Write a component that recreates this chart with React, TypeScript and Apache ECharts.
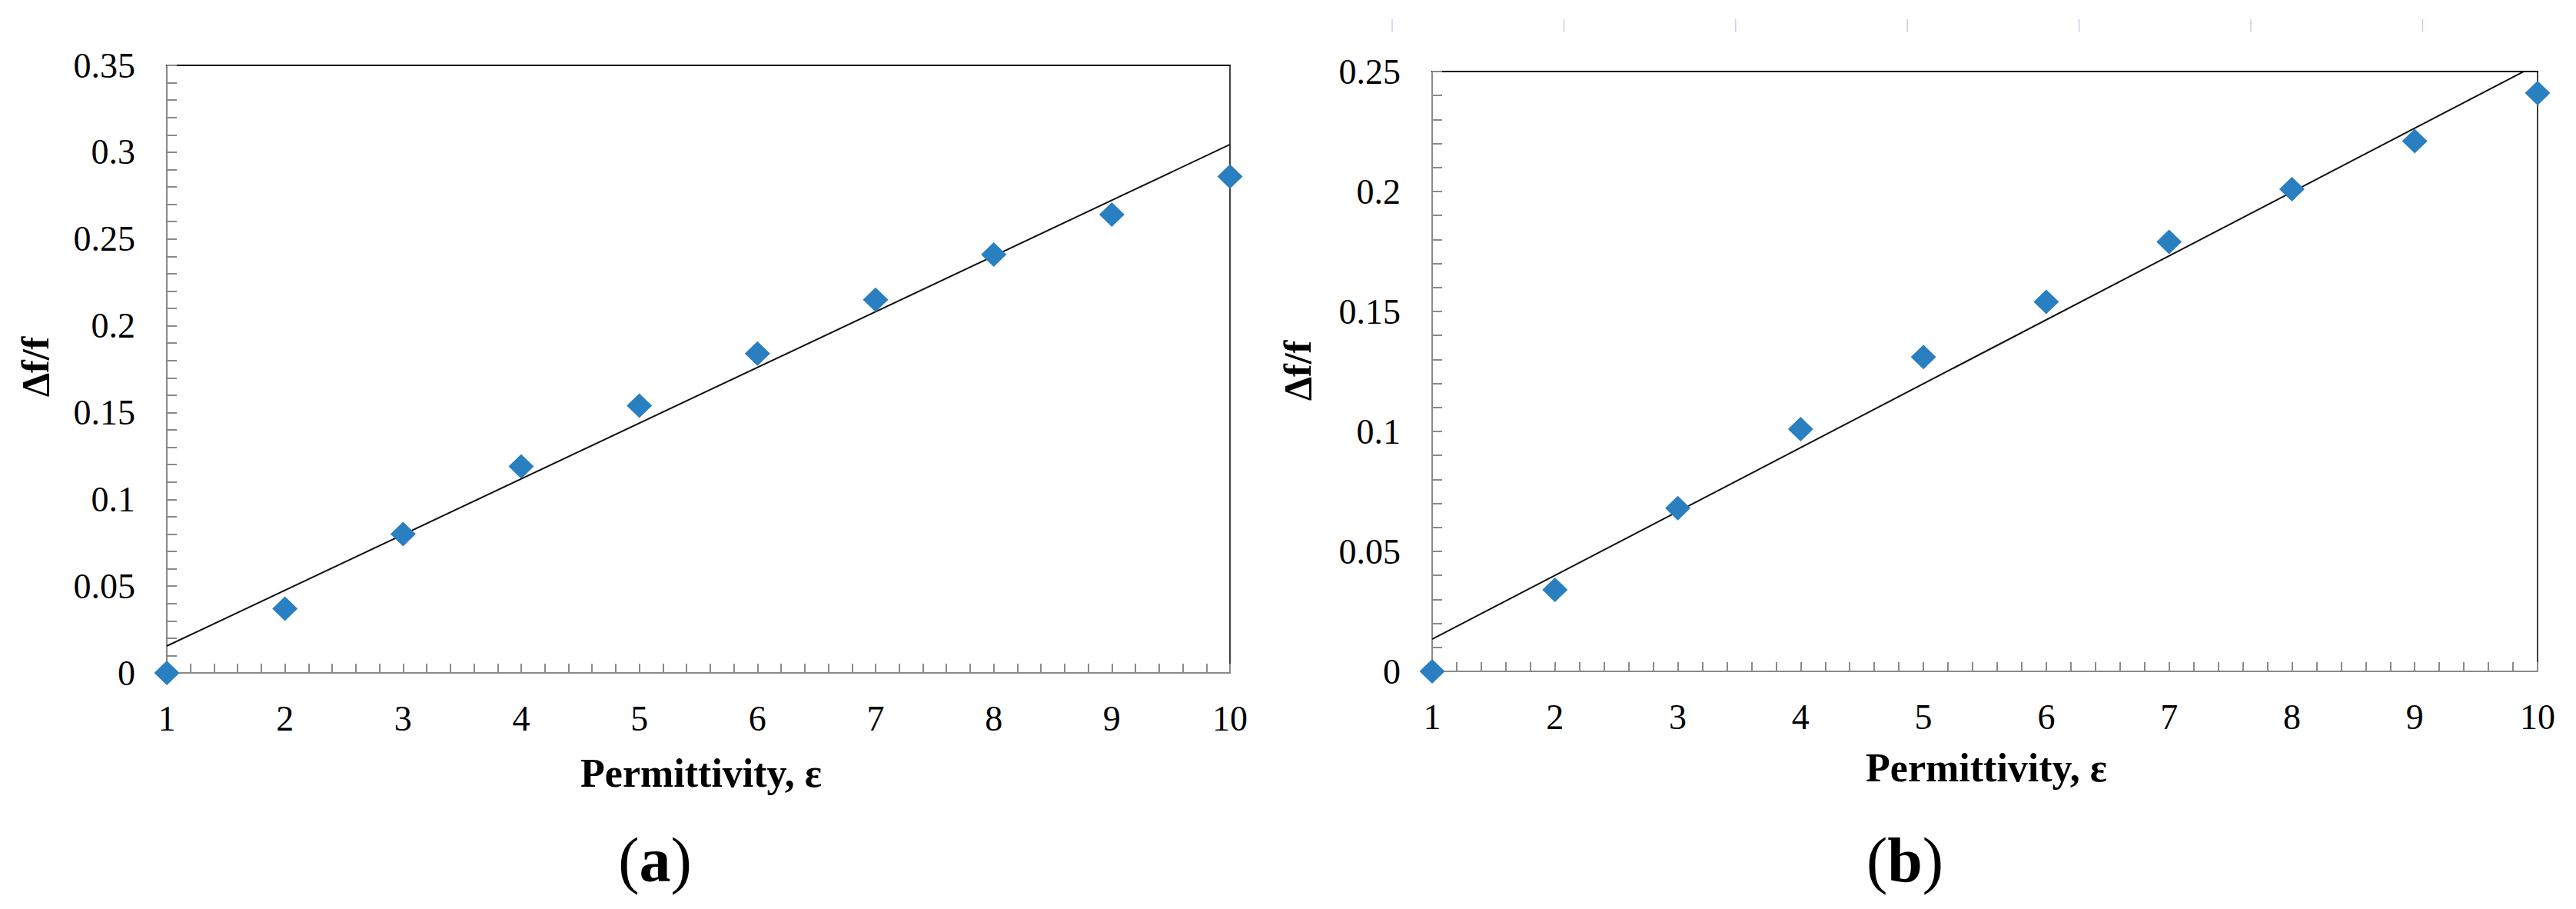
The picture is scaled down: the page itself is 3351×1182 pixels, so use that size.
import React, { useEffect, useRef } from "react";
import * as echarts from "echarts";

// ---- Data ----
const permittivity = [1, 2, 3, 4, 5, 6, 7, 8, 9, 10];
const deltaFA = [0, 0.037, 0.08, 0.119, 0.154, 0.184, 0.215, 0.241, 0.264, 0.286];
const deltaFB = [0, 0.034, 0.068, 0.101, 0.131, 0.154, 0.179, 0.201, 0.221, 0.241];
const trendA = [[1, 0.0155], [10, 0.3044]];
const trendB = [[1, 0.0134], [10, 0.253]];
const yMaxA = 0.35;
const yMaxB = 0.25;
const yInterval = 0.05;
const xTitle = "Permittivity, ε";
const yTitle = "Δf/f";
const panelLabels = ["a", "b"];

const SERIF = "Liberation Serif";
const AXIS_GRAY = "#8a8a8a";
const MARKER = "#2a7fc1";

const tickLabel = {
  fontSize: 46,
  fontFamily: SERIF,
  fontStyle: "normal",
  fontWeight: "normal",
  color: "#000",
};

function xAxisCfg(gridIndex: number) {
  return {
    type: "value",
    gridIndex,
    min: 1,
    max: 10,
    interval: 1,
    axisLine: { show: true, onZero: false, lineStyle: { color: AXIS_GRAY, width: 2 } },
    axisTick: { show: true, inside: true, length: 12, lineStyle: { color: AXIS_GRAY, width: 2 } },
    minorTick: { show: true, splitNumber: 5, length: 12, lineStyle: { color: AXIS_GRAY, width: 2 } },
    splitLine: { show: false },
    axisLabel: { margin: 36, ...tickLabel },
  };
}
function xTopCfg(gridIndex: number) {
  return {
    type: "value",
    gridIndex,
    position: "top",
    min: 1,
    max: 10,
    axisLine: { show: true, onZero: false, lineStyle: { color: "#000", width: 2 } },
    axisTick: { show: false },
    axisLabel: { show: false },
    splitLine: { show: false },
  };
}
function yAxisCfg(gridIndex: number, max: number) {
  return {
    type: "value",
    gridIndex,
    min: 0,
    max,
    interval: yInterval,
    axisLine: { show: true, onZero: false, lineStyle: { color: AXIS_GRAY, width: 2 } },
    axisTick: { show: true, inside: true, length: 13, lineStyle: { color: AXIS_GRAY, width: 2 } },
    minorTick: { show: true, splitNumber: 5, length: 13, lineStyle: { color: AXIS_GRAY, width: 2 } },
    splitLine: { show: false },
    axisLabel: { margin: 41, ...tickLabel },
  };
}
function yRightCfg(gridIndex: number, max: number) {
  return {
    type: "value",
    gridIndex,
    position: "right",
    min: 0,
    max,
    axisLine: { show: true, onZero: false, lineStyle: { color: "#000", width: 1.5 } },
    axisTick: { show: false },
    axisLabel: { show: false },
    splitLine: { show: false },
  };
}

export default function App() {
  const ref = useRef<HTMLDivElement>(null);
  useEffect(() => {
    if (!ref.current) return;
    const chart = echarts.init(ref.current, null, { renderer: "svg" });

    const topTicks: any[] = [];
    for (let k = 0; k < 7; k++) {
      const x = 1811 + k * 223.4;
      topTicks.push({
        type: "line",
        shape: { x1: x, y1: 25, x2: x, y2: 42 },
        style: { stroke: "#c9d1e2", lineWidth: 1.5 },
      });
    }

    const titleStyle = {
      fontSize: 52,
      fontWeight: "bold",
      fontFamily: SERIF,
      fill: "#000",
      align: "center",
      verticalAlign: "middle",
    };
    const panelText = (letter: string, x: number, y: number) => ({
      type: "text",
      x,
      y,
      style: {
        text: `{p|(}{b|${letter}}{p|)}`,
        align: "center",
        verticalAlign: "middle",
        rich: {
          p: { fontSize: 82, fontFamily: SERIF, fill: "#000" },
          b: { fontSize: 82, fontFamily: SERIF, fontWeight: "bold", fill: "#000" },
        },
      },
    });

    chart.setOption({
      animation: false,
      backgroundColor: "#fff",
      textStyle: { fontFamily: SERIF },
      grid: [
        { left: 217, top: 85, width: 1383, height: 790 },
        { left: 1863, top: 93, width: 1438, height: 780 },
      ],
      xAxis: [xAxisCfg(0), xAxisCfg(1), xTopCfg(0), xTopCfg(1)],
      yAxis: [yAxisCfg(0, yMaxA), yAxisCfg(1, yMaxB), yRightCfg(0, yMaxA), yRightCfg(1, yMaxB)],
      series: [
        {
          type: "line",
          xAxisIndex: 0,
          yAxisIndex: 0,
          data: trendA,
          showSymbol: false,
          symbol: "none",
          lineStyle: { color: "#111", width: 2 },
          clip: true,
          z: 2,
        },
        {
          type: "scatter",
          xAxisIndex: 0,
          yAxisIndex: 0,
          data: permittivity.map((x, i) => [x, deltaFA[i]]),
          symbol: "diamond",
          symbolSize: [33, 32],
          itemStyle: { color: MARKER, opacity: 1 },
          z: 3,
        },
        {
          type: "line",
          xAxisIndex: 1,
          yAxisIndex: 1,
          data: trendB,
          showSymbol: false,
          symbol: "none",
          lineStyle: { color: "#111", width: 2 },
          clip: true,
          z: 2,
        },
        {
          type: "scatter",
          xAxisIndex: 1,
          yAxisIndex: 1,
          data: permittivity.map((x, i) => [x, deltaFB[i]]),
          symbol: "diamond",
          symbolSize: [33, 32],
          itemStyle: { color: MARKER, opacity: 1 },
          z: 3,
        },
      ],
      graphic: [
        ...topTicks,
        { type: "text", x: 912, y: 1005, style: { text: xTitle, ...titleStyle } },
        { type: "text", x: 2584, y: 998, style: { text: xTitle, ...titleStyle } },
        { type: "text", x: 46, y: 477, rotation: Math.PI / 2, style: { text: yTitle, ...titleStyle, fontSize: 50 } },
        { type: "text", x: 1688, y: 482, rotation: Math.PI / 2, style: { text: yTitle, ...titleStyle, fontSize: 50 } },
        panelText(panelLabels[0], 852, 1118),
        panelText(panelLabels[1], 2478, 1118),
      ],
    });
    return () => chart.dispose();
  }, []);
  return (
    <div
      ref={ref}
      style={{ position: "absolute", left: 0, top: 0, width: 3351, height: 1182, background: "#fff" }}
    />
  );
}
